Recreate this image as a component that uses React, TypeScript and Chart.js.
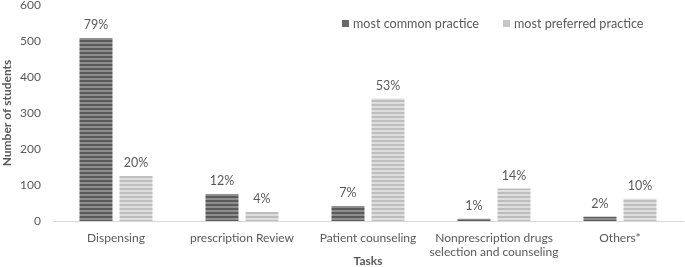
import React, { useEffect, useRef } from "react";
import { Chart, registerables } from "chart.js";
Chart.register(...registerables);

const categories: (string | string[])[] = [
  "Dispensing",
  "prescription Review",
  "Patient counseling",
  ["Nonprescription drugs", "selection and counseling"],
  "Others*",
];
const commonValues = [508, 75, 42, 6, 12];
const preferredValues = [125, 25, 340, 90, 62];
const commonLabels = ["79%", "12%", "7%", "1%", "2%"];
const preferredLabels = ["20%", "4%", "53%", "14%", "10%"];
const seriesNames = ["most common practice", "most preferred practice"];
const yMin = 0;
const yMax = 600;
const yStep = 100;

const FONT = "Lato, 'Open Sans', sans-serif";
const TEXT = "#595959";

function makePattern(a: string, b: string): CanvasPattern | string {
  const c = document.createElement("canvas");
  c.width = 4;
  c.height = 4;
  const x = c.getContext("2d");
  if (!x) return a;
  x.fillStyle = a;
  x.fillRect(0, 0, 4, 2);
  x.fillStyle = b;
  x.fillRect(0, 2, 4, 2);
  const p = x.createPattern(c, "repeat");
  return p || a;
}

export default function App() {
  const ref = useRef<HTMLCanvasElement | null>(null);
  useEffect(() => {
    document.body.style.margin = "0";
    if (!ref.current) return;
    const darkPat = makePattern("#5a5a5a", "#8e8e8e");
    const lightPat = makePattern("#bdbdbd", "#dedede");
    const labelSets = [commonLabels, preferredLabels];
    const labelPlugin = {
      id: "valueLabels",
      afterDatasetsDraw(chart: any) {
        const ctx = chart.ctx;
        ctx.save();
        ctx.font = `12.5px ${FONT}`;
        ctx.fillStyle = TEXT;
        ctx.textAlign = "center";
        ctx.textBaseline = "middle";
        chart.data.datasets.forEach((_: any, di: number) => {
          const meta = chart.getDatasetMeta(di);
          meta.data.forEach((bar: any, i: number) => {
            ctx.fillText(labelSets[di][i], bar.x, bar.y - 13);
          });
        });
        ctx.restore();
      },
    };
    const legendPlugin = {
      id: "customLegend",
      afterDraw(chart: any) {
        const ctx = chart.ctx;
        ctx.save();
        ctx.font = `12.6px ${FONT}`;
        ctx.textBaseline = "middle";
        const items = [
          { x: 342, color: "#6a6a6a", text: seriesNames[0] },
          { x: 503, color: "#c6c6c6", text: seriesNames[1] },
        ];
        items.forEach((it) => {
          ctx.fillStyle = it.color;
          ctx.fillRect(it.x, 20, 7, 7);
          ctx.fillStyle = TEXT;
          ctx.fillText(it.text, it.x + 11, 24);
        });
        ctx.restore();
      },
    };
    const chart = new Chart(ref.current, {
      type: "bar",
      data: {
        labels: categories as any,
        datasets: [
          {
            label: seriesNames[0],
            data: commonValues,
            backgroundColor: darkPat as any,
            borderWidth: 0,
            categoryPercentage: 0.635,
            barPercentage: 0.825,
          },
          {
            label: seriesNames[1],
            data: preferredValues,
            backgroundColor: lightPat as any,
            borderWidth: 0,
            categoryPercentage: 0.635,
            barPercentage: 0.825,
          },
        ],
      },
      options: {
        animation: false,
        responsive: true,
        maintainAspectRatio: false,
        layout: { padding: { top: 5, right: 2, left: 0, bottom: 0 } },
        plugins: {
          legend: { display: false },
          tooltip: { enabled: false },
        },
        scales: {
          x: {
            grid: { display: false, drawTicks: false },
            border: { display: true, color: "#d9d9d9", width: 1 },
            ticks: {
              color: TEXT,
              font: { family: FONT, size: 12 },
              padding: 10,
              maxRotation: 0,
              autoSkip: false,
            },
            title: {
              display: true,
              text: "Tasks",
              color: TEXT,
              font: { family: FONT, size: 12, weight: "bold", lineHeight: 1 },
              padding: { top: 0, bottom: 0 },
            },
            afterFit(s: any) {
              s.height = 46;
            },
          },
          y: {
            min: yMin,
            max: yMax,
            grid: { display: false, drawTicks: false },
            border: { display: false },
            ticks: {
              stepSize: yStep,
              color: TEXT,
              font: { family: FONT, size: 12 },
              padding: 12,
            },
            title: {
              display: true,
              text: "Number of students",
              color: TEXT,
              font: { family: FONT, size: 12, weight: "bold" },
              padding: 0,
            },
            afterFit(s: any) {
              s.width = 53;
              s.paddingTop = 0;
              s.paddingBottom = 0;
            },
          },
        },
      },
      plugins: [labelPlugin, legendPlugin],
    });
    return () => chart.destroy();
  }, []);
  return (
    <div style={{ position: "fixed", left: 0, top: 0, width: 685, height: 267 }}>
      <canvas ref={ref} />
    </div>
  );
}
